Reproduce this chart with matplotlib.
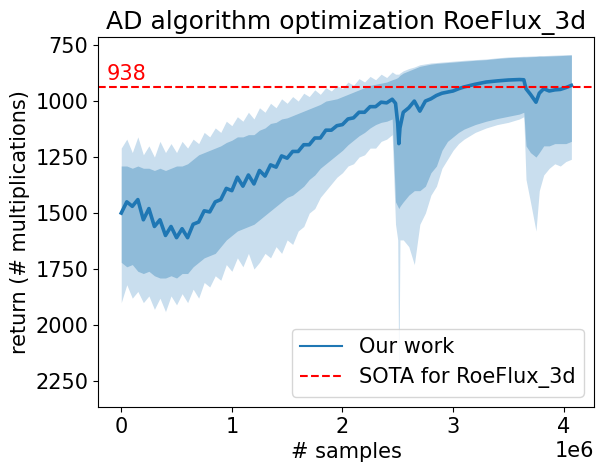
import numpy as np
import matplotlib
matplotlib.use("Agg")
import matplotlib.pyplot as plt

plt.rcParams["font.size"] = 15

# sample positions (in millions of samples)
samples_m = [0.00, 0.05, 0.10, 0.15, 0.20, 0.25, 0.30, 0.35, 0.40, 0.45,
             0.50, 0.55, 0.60, 0.65, 0.70, 0.75, 0.80, 0.85, 0.90, 0.95,
             1.00, 1.05, 1.10, 1.15, 1.20, 1.25, 1.30, 1.35, 1.40, 1.45,
             1.50, 1.55, 1.60, 1.65, 1.70, 1.75, 1.80, 1.85, 1.90, 1.95,
             2.00, 2.05, 2.10, 2.15, 2.20, 2.25, 2.30, 2.35, 2.40, 2.45,
             2.48, 2.50, 2.51, 2.52, 2.55, 2.60, 2.65, 2.70, 2.75, 2.80,
             2.85, 2.90, 2.95, 3.00, 3.05, 3.10, 3.20, 3.30, 3.40, 3.50,
             3.60, 3.64, 3.66, 3.70, 3.75, 3.78, 3.82, 3.87, 3.92, 3.97,
             4.02, 4.07]

# mean return
mean_ret = [1500, 1450, 1470, 1440, 1530, 1480, 1560, 1530, 1600, 1560,
            1610, 1570, 1610, 1550, 1540, 1490, 1495, 1450, 1440, 1390,
            1400, 1340, 1380, 1330, 1370, 1310, 1335, 1285, 1295, 1245,
            1255, 1225, 1225, 1195, 1195, 1165, 1165, 1130, 1130, 1110,
            1105, 1080, 1075, 1050, 1050, 1025, 1025, 1005, 1008, 992,
            1010, 1100, 1190, 1120, 1050, 1030, 1000, 1045, 1000, 990,
            975, 965, 960, 955, 945, 937, 925, 915, 910, 906,
            904, 905, 945, 970, 1005, 965, 945, 955, 950, 948,
            940, 930]

# core band (upper = smaller number, since axis is inverted)
band_hi = [1290, 1290, 1300, 1290, 1300, 1300, 1310, 1300, 1310, 1300,
           1290, 1290, 1280, 1260, 1240, 1230, 1220, 1210, 1200, 1185,
           1175, 1160, 1160, 1150, 1150, 1130, 1120, 1100, 1095, 1080,
           1075, 1065, 1055, 1045, 1035, 1025, 1015, 1000, 995, 990,
           980, 970, 960, 950, 940, 930, 925, 920, 915, 905,
           900, 895, 890, 885, 875, 865, 855, 845, 840, 835,
           832, 830, 828, 826, 824, 822, 818, 815, 810, 806,
           804, 803, 803, 802, 801, 800, 800, 799, 798, 797,
           796, 795]
band_lo = [1720, 1740, 1730, 1760, 1770, 1760, 1780, 1790, 1790, 1780,
           1790, 1770, 1770, 1740, 1720, 1700, 1690, 1680, 1650, 1620,
           1600, 1580, 1570, 1560, 1550, 1530, 1510, 1490, 1470, 1450,
           1430, 1420, 1400, 1380, 1350, 1330, 1300, 1280, 1260, 1240,
           1220, 1195, 1175, 1155, 1140, 1120, 1105, 1095, 1090, 1080,
           1450, 1470, 1480, 1470, 1450, 1420, 1400, 1400, 1380, 1320,
           1290, 1220, 1180, 1160, 1140, 1125, 1105, 1090, 1078, 1068,
           1058, 1050, 1200, 1230, 1250, 1230, 1200, 1200, 1190, 1190,
           1190, 1180]

# spike extremes around the core band
tip_hi = [1210, 1170, 1230, 1160, 1240, 1200, 1250, 1180, 1230, 1190,
          1230, 1180, 1210, 1170, 1190, 1140, 1160, 1120, 1140, 1090,
          1110, 1070, 1090, 1050, 1080, 1030, 1050, 1010, 1030, 990,
          1010, 980, 1000, 965, 980, 950, 970, 940, 955, 930,
          945, 915, 930, 900, 915, 890, 905, 880, 895, 870,
          880, 880, 880, 875, 865, 855, 848, 838, 834, 830,
          828, 826, 824, 822, 820, 818, 815, 812, 807, 803,
          801, 800, 800, 799, 798, 797, 797, 796, 795, 794,
          793, 792]
tip_lo = [1900, 1820, 1880, 1850, 1900, 1870, 1930, 1880, 1940, 1870,
          1910, 1860, 1900, 1840, 1880, 1810, 1830, 1780, 1800, 1730,
          1760, 1700, 1740, 1680, 1750, 1720, 1680, 1700, 1650, 1680,
          1620, 1640, 1580, 1560, 1500, 1480, 1430, 1400, 1370, 1340,
          1320, 1290, 1280, 1250, 1240, 1210, 1210, 1180, 1170, 1150,
          1550, 1620, 2290, 1620, 1620, 1650, 1730, 1550, 1500, 1420,
          1380, 1300, 1260, 1220, 1190, 1170, 1140, 1120, 1105, 1095,
          1080, 1070, 1350, 1450, 1580, 1400, 1330, 1300, 1280, 1290,
          1270, 1260]

sota = 938

x = np.array(samples_m) * 1e6

fig = plt.figure(figsize=(6.04, 4.72), dpi=100)
ax = fig.add_axes([0.1623, 0.1377, 0.8212, 0.7839])

ax.fill_between(x, tip_hi, tip_lo, color="#c9deee", linewidth=0)
ax.fill_between(x, band_hi, band_lo, color="#8fbbd9", linewidth=0)
ax.plot(x, mean_ret, color="C0", linewidth=2.6, label="Our work")
ax.axhline(sota, color="red", linestyle="--", linewidth=1.5,
           label="SOTA for RoeFlux_3d")
ax.text(-0.13e6, 905, str(sota), color="red", fontsize=15)

ax.set_xlim(-0.21e6, 4.275e6)
ax.set_ylim(2366, 714)
ax.set_yticks([750, 1000, 1250, 1500, 1750, 2000, 2250])
ax.set_xticks([0, 1e6, 2e6, 3e6, 4e6])

ax.set_title("AD algorithm optimization RoeFlux_3d", fontsize=18)
ax.set_xlabel("# samples")
ax.set_ylabel("return (# multiplications)")
leg = ax.legend(loc="lower right")
leg.get_lines()[0].set_linewidth(1.5)

fig.savefig("out.png", dpi=100)
